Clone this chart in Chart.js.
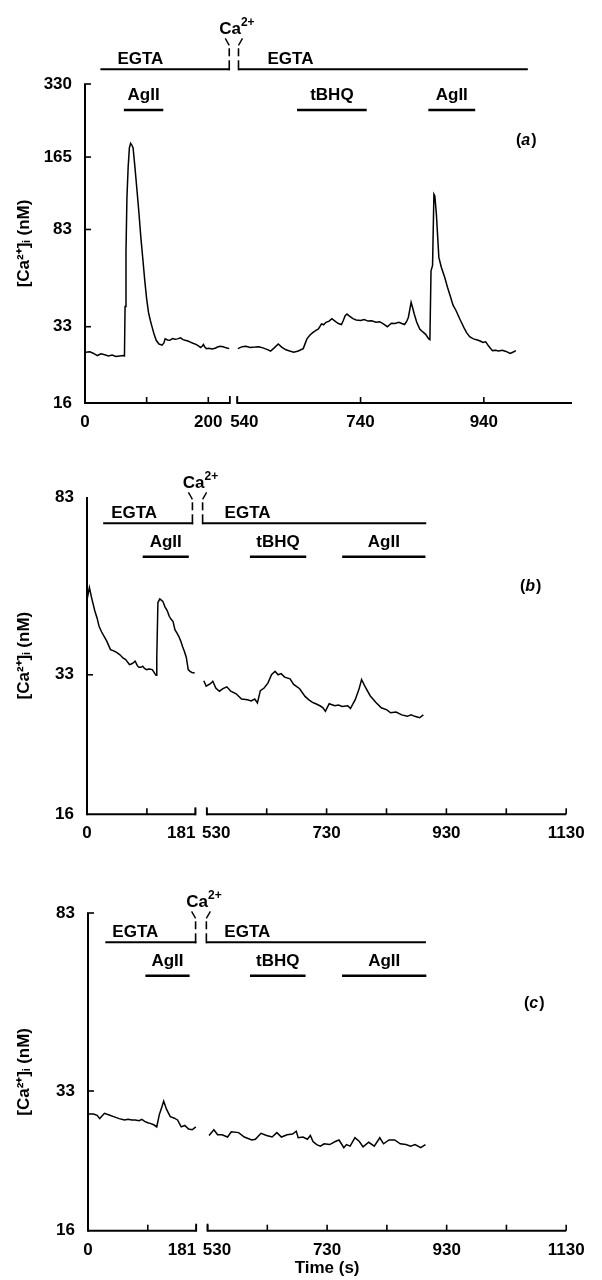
<!DOCTYPE html>
<html>
<head>
<meta charset="utf-8">
<script src="https://cdn.jsdelivr.net/npm/chart.js@4/dist/chart.umd.min.js"></script>
<style>
  body { margin: 0; background: #fff; width: 602px; height: 1280px; position: relative; overflow: hidden; }
  canvas { position: absolute; left: 0; }
</style>
</head>
<body>
<canvas id="chartA" width="602" height="440" style="top:0"></canvas>
<canvas id="chartB" width="602" height="420" style="top:440px"></canvas>
<canvas id="chartC" width="602" height="420" style="top:860px"></canvas>
<script>
// ---- panel (a) ----
const aT1 = [1, 8, 14, 20, 26, 32, 38, 44, 50, 56, 62, 64, 65, 66.5, 68, 70, 72, 74, 76, 78,
  81, 84, 87.5, 90.6, 94, 97, 100, 103, 106, 109, 112, 115.5, 120, 125, 128, 130, 134, 137.5, 142, 146,
  150, 155, 159, 162.5, 167, 171, 175, 180, 184, 187.5, 190, 192, 194, 197, 201, 206, 211, 215, 219, 224, 229, 234];
const aV1 = [25.9, 26.0, 25.6, 25.1, 25.5, 25.3, 25.0, 25.2, 24.9, 25.0, 25.1, 25.0, 40, 67, 112, 150, 180, 188, 185, 180,
  150, 123, 97, 77, 62, 51, 43, 37.8, 35, 32.8, 30.8, 29, 28, 27.7, 28.3, 29.4, 29.1, 29.0, 29.5, 29.3,
  29.4, 29.7, 29.2, 29.0, 28.8, 28.5, 28.2, 27.9, 27.5, 27.1, 27.4, 27.9, 27.3, 26.8, 26.9, 26.7, 26.9, 27.2, 27.4, 27.3, 27.0, 26.8];
const aT2 = [541, 548, 554, 561, 569, 575, 581.6, 588, 594, 600, 606.5, 612, 619, 625, 631.6, 639, 647, 653, 658, 662.4,
  667, 671.7, 676.6, 680, 684, 689, 693.4, 699.6, 704, 709, 712, 715, 718, 722, 727.6, 733, 740, 746, 752, 758,
  765, 771, 777, 783.5, 790, 796, 802, 807, 811.4, 815, 817.6, 820, 822, 824.5, 827, 831, 836, 841, 845.6, 850.6,
  852.5, 854.3, 856.8, 859, 860.5, 863, 867, 871, 876.6, 881, 886, 890, 895, 901, 907.5, 912, 917, 923, 929.5, 934,
  938.6, 943, 948, 954, 959, 963.7, 970, 976, 982.6, 987, 992];
const aV2 = [26.8, 27.3, 27.4, 27.1, 27.2, 27.3, 27.0, 26.6, 26.2, 27.0, 28.0, 27.2, 26.5, 26.2, 25.9, 26.2, 26.8, 29.4, 30.5, 31.2,
  31.8, 32.3, 33.9, 33.6, 34.4, 34.8, 35.6, 34.6, 34.0, 33.7, 35.0, 36.6, 37.2, 36.5, 35.6, 35.2, 35.0, 35.3, 34.8, 34.9,
  34.4, 34.6, 33.9, 33.0, 34.1, 34.0, 34.4, 34.0, 33.7, 34.8, 36.1, 39.0, 41.6, 39.5, 37.3, 34.5, 32.3, 31.4, 30.7, 29.4,
  29.2, 56.1, 59.0, 116, 114, 96, 63.7, 58.0, 52.6, 48.0, 43.7, 40.5, 38.4, 35.5, 32.8, 31.2, 30.0, 29.4, 29.1, 28.8,
  28.4, 28.6, 27.4, 26.3, 26.4, 26.2, 26.4, 26.1, 25.6, 25.9, 26.3];
const aYTicks = [16, 33, 83, 165, 330];
const aXTicks1 = [0, 100, 200];
const aXLabels1 = ['0', '', '200'];
const aXTicks2 = [540, 740, 940];
const aXLabels2 = ['540', '740', '940'];
const aAxis1 = [0, 235];
const aAxis2 = [540, 1083];
const aEGTA = [[25, 234], [542, 1010]];
const aAgII = [[63, 127], [850, 926]];
const aTBHQ = [637, 750];

// ---- panel (b) ----
const bT1 = [0, 4, 8, 13, 17, 20, 24, 29.7, 33, 39.2, 45.6, 50, 55, 60, 64.6, 68, 70.9, 74, 77.2, 80.4,
  84, 86.7, 90, 93, 96, 99.4, 104, 108.9, 112, 115.2, 116.5, 118.4, 121.5, 124, 126.6, 130, 134, 137.3, 140.5, 143.7,
  146.8, 150, 153.2, 156.5, 159.5, 162.5, 165.8, 169, 172, 175.3, 179.7];
const bV1 = [48.7, 51.9, 49.0, 46.0, 44.2, 42.5, 41.3, 40.0, 39.3, 37.6, 37.3, 37.0, 36.6, 36.0, 35.7, 35.2, 34.8, 34.9, 35.1, 35.4,
  34.6, 34.3, 34.3, 34.5, 34.1, 33.9, 34.0, 33.9, 33.4, 32.9, 36.1, 48.0, 48.9, 48.6, 48.3, 47.0, 46.0, 44.7, 44.0, 43.5,
  41.7, 41.0, 40.3, 39.3, 38.2, 37.3, 36.1, 33.9, 33.6, 33.4, 33.3];
const bT2 = [525, 529, 536, 540, 545, 551, 557, 563.5, 570, 579, 588, 598, 604, 610, 614.5, 619.4, 625.7, 632, 638, 644,
  649, 654, 660, 669, 675, 685, 694, 700, 706.4, 712, 718.8, 724, 728, 734.3, 743.7, 750, 756, 765.4, 769.8, 777.8,
  784, 788.4, 793.4, 802.7, 812, 821.3, 830.6, 836.8, 846, 855.5, 864.8, 871, 877.2, 885.3, 891.5];
const bV2 = [32.0, 31.1, 31.5, 31.9, 30.8, 30.3, 30.7, 31.0, 30.3, 29.9, 29.1, 29.0, 28.8, 29.1, 28.5, 30.4, 30.8, 31.6, 33.0, 33.6,
  33.0, 33.2, 32.6, 32.3, 31.4, 30.7, 29.5, 29.0, 28.6, 28.4, 28.1, 27.8, 27.3, 28.4, 28.1, 28.2, 28.0, 28.1, 27.7, 29.0,
  30.6, 32.2, 31.2, 29.6, 28.6, 27.8, 27.5, 27.1, 27.2, 26.8, 26.6, 26.8, 26.6, 26.4, 26.8];

// ---- panel (c) ----
const cT1 = [1.2, 9.2, 15.3, 19.6, 27.5, 36.7, 42.8, 52, 61.2, 67, 73.4, 79, 85.6, 90, 94.8, 100, 104, 110, 115, 119.3,
  123, 126.6, 131.5, 137.6, 143.7, 149.8, 156, 162, 168.2, 174.3, 180.4];
const cV1 = [29.3, 29.3, 29.1, 28.6, 29.4, 29.1, 28.9, 28.6, 28.4, 28.5, 28.4, 28.4, 28.3, 28.5, 28.2, 28.0, 27.9, 27.7, 27.4, 29.2,
  30.2, 31.3, 30.0, 28.9, 28.7, 28.4, 27.4, 27.6, 27.1, 27.0, 27.4];
const cT2 = [532.5, 540.6, 546.8, 554.2, 563.5, 569.8, 582, 591.5, 604, 610, 619.4, 628.8, 638, 646, 653.6, 663, 672.2, 678.4, 681.6, 689.6,
  697, 702, 706.4, 712.6, 718.8, 725, 734.3, 743.7, 750, 758, 762.3, 768.5, 776.6, 784, 790.2, 799.6, 808.9, 818.2, 824.4, 833.7,
  843, 852.4, 861.7, 869.8, 877.2, 886.5, 894.6];
const cV2 = [26.2, 27.0, 26.3, 26.3, 26.0, 26.7, 26.6, 26.0, 25.6, 25.7, 26.5, 26.2, 26.0, 26.6, 26.0, 26.3, 26.4, 26.8, 25.9, 26.0,
  25.7, 26.2, 25.4, 25.0, 24.8, 25.1, 25.0, 25.4, 25.6, 24.6, 25.0, 24.8, 25.9, 25.4, 24.7, 25.3, 24.8, 25.9, 25.1, 25.6,
  25.6, 25.1, 25.0, 24.8, 25.0, 24.6, 25.0];

// (b) and (c) share axes
const bcYTicks = [16, 33, 83];
const bcXTicks1 = [0, 100, 181];
const bcXLabels1 = ['0', '', '181'];
const bcXTicks2 = [530, 630, 730, 830, 930, 1030, 1130];
const bcXLabels2 = ['530', '', '730', '', '930', '', '1130'];
const bcAxis1 = [0, 181];
const bcAxis2 = [530, 1130];
const bEGTA = [[27, 176], [523, 895]];
const bAgII = [[93, 170], [756, 895]];
const bTBHQ = [602, 696];
const cEGTA = [[29, 180], [528, 894]];
const cAgII = [[96, 170], [755, 896]];
const cTBHQ = [601, 694];

const FONT = "'Liberation Sans', Arial, Helvetica, sans-serif";
Chart.defaults.font.family = FONT;
Chart.defaults.font.size = 17;
Chart.defaults.font.weight = 'bold';
Chart.defaults.color = '#000';

// spaces push the crowded labels at the axis break apart
function pad(labels, first, last) {
  return labels.map((l, i) => {
    if (i === 0 && first) return ' '.repeat(first) + l;
    if (i === labels.length - 1 && last) return l + ' '.repeat(last);
    return l;
  });
}

function line(ctx, x0, y0, x1, y1, w) {
  ctx.lineWidth = w;
  ctx.beginPath();
  ctx.moveTo(x0, y0);
  ctx.lineTo(x1, y1);
  ctx.stroke();
}

function decor(p) {
  return {
    id: 'decor',
    afterDraw(chart) {
      const { ctx, chartArea: ca, scales } = chart;
      const ys = scales.y, xs1 = scales.x1, xs2 = scales.x2;
      const X = t => (t < 400 ? xs1 : xs2).getPixelForValue(t);
      ctx.save();
      ctx.strokeStyle = '#000';
      ctx.fillStyle = '#000';

      // y axis with inward ticks
      line(ctx, ca.left, ca.top, ca.left, ca.bottom + 1, 2);
      ys.ticks.forEach(t => {
        if (t.value === ys.min) return;
        if (t.value === ys.max && !p.topTick) return;
        const py = ys.getPixelForValue(t.value);
        line(ctx, ca.left - 1, py, ca.left + 6, py, 1.6);
      });

      // broken x axis
      [[xs1, p.axis1, false, true], [xs2, p.axis2, true, false]].forEach(([s, r, capL, capR]) => {
        const a = s.getPixelForValue(r[0]), b = s.getPixelForValue(r[1]);
        line(ctx, a, ca.bottom, b, ca.bottom, 2);
        s.ticks.forEach(t => {
          if (t.value === 0) return;
          const px = s.getPixelForValue(t.value);
          line(ctx, px, ca.bottom, px, ca.bottom - 6, 1.6);
        });
        if (capL) line(ctx, a, ca.bottom + 1, a, ca.bottom - 7, 1.8);
        if (capR) line(ctx, b, ca.bottom + 1, b, ca.bottom - 7, 1.8);
      });

      // EGTA bars
      ctx.font = 'bold 17px ' + FONT;
      ctx.textBaseline = 'alphabetic';
      ctx.textAlign = 'left';
      p.egta.forEach(([t0, t1], i) => {
        const a = X(t0), b = X(t1);
        line(ctx, a, p.egtaY, b + 0.8, p.egtaY, 2);
        ctx.fillText('EGTA', a + p.egtaPad[i], p.egtaY - 5);
      });

      // Ca2+ break marks
      const l = X(p.egta[0][1]), r = X(p.egta[1][0]), yb = p.egtaY;
      [[l, -1], [r, 1]].forEach(([xx, dir]) => {
        line(ctx, xx, yb + 1, xx, yb - 9, 1.6);
        line(ctx, xx, yb - 13, xx, yb - 21, 1.6);
        line(ctx, xx, yb - 24, xx + 4 * dir, yb - 31, 1.4);
      });
      const wCa = ctx.measureText('Ca').width;
      ctx.font = 'bold 12px ' + FONT;
      const wSup = ctx.measureText('2+').width;
      const cx = (l + r) / 2 + 3 - (wCa + wSup) / 2;
      ctx.font = 'bold 17px ' + FONT;
      ctx.fillText('Ca', cx, yb - 35);
      ctx.font = 'bold 12px ' + FONT;
      ctx.fillText('2+', cx + wCa, yb - 43);

      // AgII / tBHQ bars
      ctx.font = 'bold 17px ' + FONT;
      ctx.textAlign = 'center';
      const bars = p.agii.map(rg => ['AgII', rg]).concat([['tBHQ', p.tbhq]]);
      bars.forEach(([name, [t0, t1]]) => {
        const a = X(t0), b = X(t1);
        line(ctx, a, p.treatY, b, p.treatY, 2.6);
        ctx.fillText(name, (a + b) / 2, p.treatY - 10);
      });

      // panel tag (a)/(b)/(c)
      ctx.textAlign = 'left';
      let tx = p.tagX;
      ctx.font = 'bold 16px ' + FONT;
      ctx.fillText('(', tx, p.tagY);
      tx += ctx.measureText('(').width;
      ctx.font = 'italic bold 16px ' + FONT;
      ctx.fillText(p.tag, tx, p.tagY);
      tx += ctx.measureText(p.tag).width + 1;
      ctx.font = 'bold 16px ' + FONT;
      ctx.fillText(')', tx, p.tagY);
      ctx.restore();
    }
  };
}

function xScale(range, ticks, labels, h) {
  return {
    type: 'linear', position: 'bottom', stack: 'time', stackWeight: range[1] - range[0],
    min: range[0], max: range[1],
    afterBuildTicks: s => { s.ticks = ticks.map(v => ({ value: v })); },
    afterFit: s => { s.height = h; },
    grid: { display: false, drawTicks: false },
    border: { display: false },
    ticks: { autoSkip: false, maxRotation: 0, padding: 9, callback: (v, i) => labels[i] }
  };
}

function build(id, p) {
  const pts = (ts, vs) => ts.map((t, i) => ({ x: t, y: vs[i] }));
  new Chart(document.getElementById(id), {
    type: 'line',
    data: {
      datasets: [
        { data: pts(p.t1, p.v1), xAxisID: 'x1', yAxisID: 'y' },
        { data: pts(p.t2, p.v2), xAxisID: 'x2', yAxisID: 'y' }
      ]
    },
    options: {
      responsive: false, animation: false, devicePixelRatio: 1,
      layout: { padding: { top: p.top, right: p.right, left: 0, bottom: 0 } },
      elements: {
        point: { radius: 0 },
        line: { borderColor: '#000', borderWidth: 1.5, tension: 0, fill: false }
      },
      plugins: {
        legend: { display: false },
        tooltip: { enabled: false },
        title: p.title || { display: false }
      },
      scales: {
        x1: xScale(p.x1, p.xt1, p.xl1, p.xH),
        x2: xScale(p.x2, p.xt2, p.xl2, p.xH),
        y: {
          type: 'logarithmic', position: 'left', min: 16, max: p.yMax,
          afterBuildTicks: s => { s.ticks = p.yTicks.map(v => ({ value: v })); },
          afterFit: s => { s.width = p.left; },
          grid: { display: false, drawTicks: false },
          border: { display: false },
          ticks: { autoSkip: false, padding: 13, callback: v => String(v) },
          title: { display: true, text: '[Ca²⁺]ᵢ (nM)', padding: { top: 14, bottom: 0 }, font: { size: 17, weight: 'bold' } }
        }
      }
    },
    plugins: [decor(p)]
  });
}

build('chartA', {
  t1: aT1, v1: aV1, t2: aT2, v2: aV2,
  left: 85, right: 30, top: 84, xH: 37, yMax: 330, yTicks: aYTicks,
  x1: [0, 240], x2: [533, 1083], axis1: aAxis1, axis2: aAxis2,
  xt1: aXTicks1, xl1: aXLabels1, xt2: aXTicks2, xl2: pad(aXLabels2, 3, 0),
  egta: aEGTA, agii: aAgII, tbhq: aTBHQ,
  egtaY: 69.3, treatY: 110, egtaPad: [17, 29], topTick: true,
  tag: 'a', tagX: 516, tagY: 145
});

build('chartB', {
  t1: bT1, v1: bV1, t2: bT2, v2: bV2,
  left: 87, right: 26, top: 57, xH: 45.7, yMax: 83, yTicks: bcYTicks,
  x1: [0, 190], x2: [520, 1130], axis1: bcAxis1, axis2: bcAxis2,
  xt1: bcXTicks1, xl1: pad(bcXLabels1, 0, 6), xt2: bcXTicks2, xl2: pad(bcXLabels2, 4, 0),
  egta: bEGTA, agii: bAgII, tbhq: bTBHQ,
  egtaY: 83.3, treatY: 116.7, egtaPad: [8, 22], topTick: false,
  tag: 'b', tagX: 520, tagY: 151
});

build('chartC', {
  t1: cT1, v1: cV1, t2: cT2, v2: cV2,
  left: 88, right: 25, top: 53, xH: 27.9, yMax: 83, yTicks: bcYTicks,
  x1: [0, 190], x2: [520, 1130], axis1: bcAxis1, axis2: bcAxis2,
  xt1: bcXTicks1, xl1: pad(bcXLabels1, 0, 6), xt2: bcXTicks2, xl2: pad(bcXLabels2, 4, 0),
  egta: cEGTA, agii: cAgII, tbhq: cTBHQ,
  egtaY: 82.3, treatY: 115.7, egtaPad: [7, 18], topTick: true,
  tag: 'c', tagX: 524, tagY: 148,
  title: {
    display: true, text: 'Time (s)', position: 'bottom', fullSize: false,
    padding: { top: 0, bottom: 1 }, font: { size: 17, weight: 'bold' }, color: '#000'
  }
});
</script>
</body>
</html>
